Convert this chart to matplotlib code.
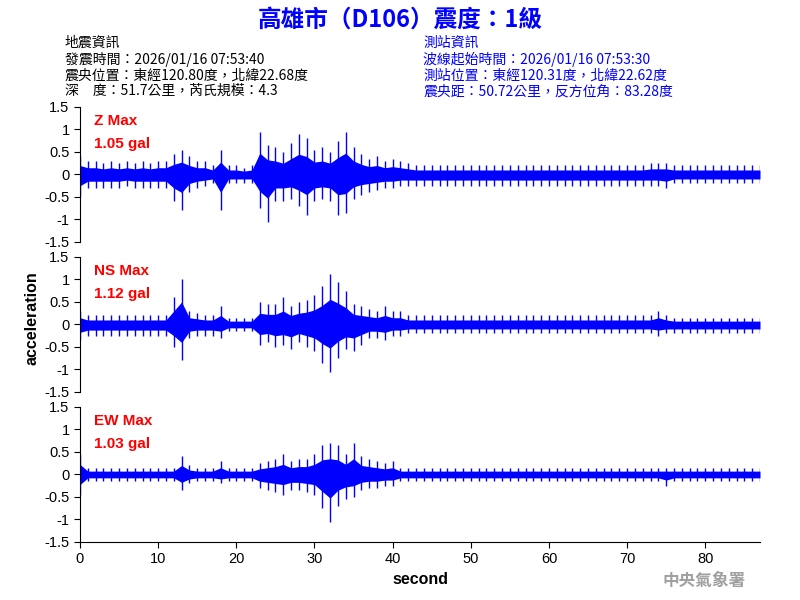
import numpy as np
import matplotlib
matplotlib.use("Agg")
import matplotlib.pyplot as plt

plt.rcParams['font.family'] = ['Liberation Sans', 'Noto Sans CJK TC', 'DejaVu Sans']

# envelope of each trace, one value per second (gal)
seconds = list(range(88))
z_upper = [0.4, 0.3, 0.3, 0.25, 0.3, 0.25, 0.3, 0.25, 0.3, 0.25, 0.3, 0.3, 0.45, 0.55, 0.4, 0.3, 0.3, 0.2, 0.55, 0.2,
           0.2, 0.15, 0.2, 0.95, 0.65, 0.6, 0.5, 0.7, 0.9, 0.8, 0.55, 0.6, 0.5, 0.75, 0.95, 0.6, 0.45, 0.35, 0.4, 0.3,
           0.35, 0.3, 0.25, 0.2] + [0.2] * 29 + [0.25, 0.25, 0.25] + [0.2] * 12
z_lower = [-0.5, -0.3, -0.3, -0.3, -0.3, -0.3, -0.25, -0.3, -0.3, -0.3, -0.3, -0.3, -0.6, -0.8, -0.4, -0.3, -0.25, -0.2, -0.8, -0.2,
           -0.2, -0.2, -0.2, -0.75, -1.05, -0.6, -0.6, -0.55, -0.7, -0.9, -0.6, -0.55, -0.6, -0.9, -0.85, -0.55, -0.45, -0.4, -0.35, -0.3,
           -0.3] + [-0.25] * 34 + [-0.3] + [-0.2] * 12
ns_upper = [0.3] + [0.2] * 11 + [0.6, 1.0, 0.3, 0.25, 0.2, 0.2, 0.4, 0.15, 0.15, 0.15, 0.15, 0.5, 0.45, 0.45, 0.6, 0.4, 0.5, 0.55,
            0.65, 0.85, 1.12, 0.95, 0.75, 0.45, 0.4, 0.35, 0.3, 0.4, 0.3, 0.3] + [0.2] * 32 + [0.3, 0.2] + [0.15] * 12
ns_lower = [-0.35] + [-0.25] * 11 + [-0.5, -0.8, -0.3, -0.25, -0.25, -0.25, -0.3, -0.15, -0.15, -0.15, -0.15, -0.45, -0.4, -0.5,
            -0.45, -0.55, -0.4, -0.5, -0.6, -0.85, -1.05, -0.75, -0.55, -0.6, -0.45, -0.3, -0.3, -0.35, -0.25, -0.25] + [-0.2] * 32 + [-0.25] + [-0.2] * 13
ew_upper = [0.45] + [0.15] * 12 + [0.4, 0.2, 0.15, 0.15, 0.15, 0.3, 0.15, 0.15, 0.15, 0.15, 0.25, 0.3, 0.35, 0.45, 0.3, 0.35, 0.35,
            0.45, 0.65, 0.7, 0.65, 0.45, 0.7, 0.4, 0.35, 0.3, 0.25, 0.3] + [0.15] * 47
ew_lower = [-0.45] + [-0.15] * 12 + [-0.35, -0.2, -0.15, -0.15, -0.15, -0.2, -0.15, -0.15, -0.15, -0.15, -0.3, -0.35, -0.4, -0.45,
            -0.35, -0.35, -0.4, -0.45, -0.75, -1.05, -0.7, -0.55, -0.5, -0.35, -0.3, -0.3, -0.25, -0.25] + [-0.15] * 34 + [-0.25] + [-0.15] * 12

channels = ["Z", "NS", "EW"]
peaks = [1.05, 1.12, 1.03]
uppers = [z_upper, ns_upper, ew_upper]
lowers = [z_lower, ns_lower, ew_lower]

yticks = [1.5, 1, 0.5, 0, -0.5, -1, -1.5]
ytick_labels = ["1.5", "1", "0.5", "0", "-0.5", "-1", "-1.5"]
xticks = [0, 10, 20, 30, 40, 50, 60, 70, 80]

fig = plt.figure(figsize=(8, 6), dpi=100)
bottoms = [0.5967, 0.3467, 0.0967]
for i, ch in enumerate(channels):
    ax = fig.add_axes([0.1, bottoms[i], 0.85, 0.225])
    up = np.array(uppers[i])
    lo = np.array(lowers[i])
    # dense core of the trace plus the peak spikes
    ax.fill_between(seconds, lo * 0.5, up * 0.5, color='#0000ff', linewidth=0)
    ax.vlines(seconds, lo, up, color='#0000ff', linewidth=1)
    ax.set_xlim(0, 87)
    ax.set_ylim(-1.5, 1.5)
    ax.set_yticks(yticks)
    ax.set_yticklabels(ytick_labels)
    ax.tick_params(labelsize=10.5, length=4)
    for s in ['top', 'right']:
        ax.spines[s].set_visible(False)
    if i < 2:
        ax.spines['bottom'].set_visible(False)
        ax.set_xticks([])
    else:
        ax.set_xticks(xticks)
        ax.set_xlabel("second", fontsize=11.5, fontweight='bold')
    ax.text(0.02, 0.95, ch + " Max", color='red', fontsize=11, fontweight='bold', transform=ax.transAxes, va='top')
    ax.text(0.02, 0.78, f"{peaks[i]:.2f} gal", color='red', fontsize=11, fontweight='bold', transform=ax.transAxes, va='top')

fig.text(0.04, 0.47, "acceleration", rotation=90, fontsize=11.5, fontweight='bold', ha='center', va='center')

fig.text(0.5, 0.967, "高雄市（D106）震度：1級", color='#0000ff', fontsize=17, fontweight='bold',
         ha='center', va='center', family=['Noto Sans CJK TC'])
left_info = ["地震資訊", "發震時間：2026/01/16 07:53:40", "震央位置：東經120.80度，北緯22.68度", "深　度：51.7公里，芮氏規模：4.3"]
right_info = ["測站資訊", "波線起始時間：2026/01/16 07:53:30", "測站位置：東經120.31度，北緯22.62度", "震央距：50.72公里，反方位角：83.28度"]
for k in range(4):
    y = 0.928 - k * 0.0267
    fig.text(0.081, y, left_info[k], color='black', fontsize=10, va='center',
             family=['Noto Sans CJK TC', 'DejaVu Sans'])
    fig.text(0.529, y, right_info[k], color='#0000ff', fontsize=10, va='center',
             family=['Noto Sans CJK TC', 'DejaVu Sans'])

fig.text(0.88, 0.032, "中央氣象署", color='#a0a0a0', fontsize=12, fontweight='bold', ha='center', va='center',
         family=['Noto Sans CJK TC'])

fig.savefig("out.png", dpi=100)
